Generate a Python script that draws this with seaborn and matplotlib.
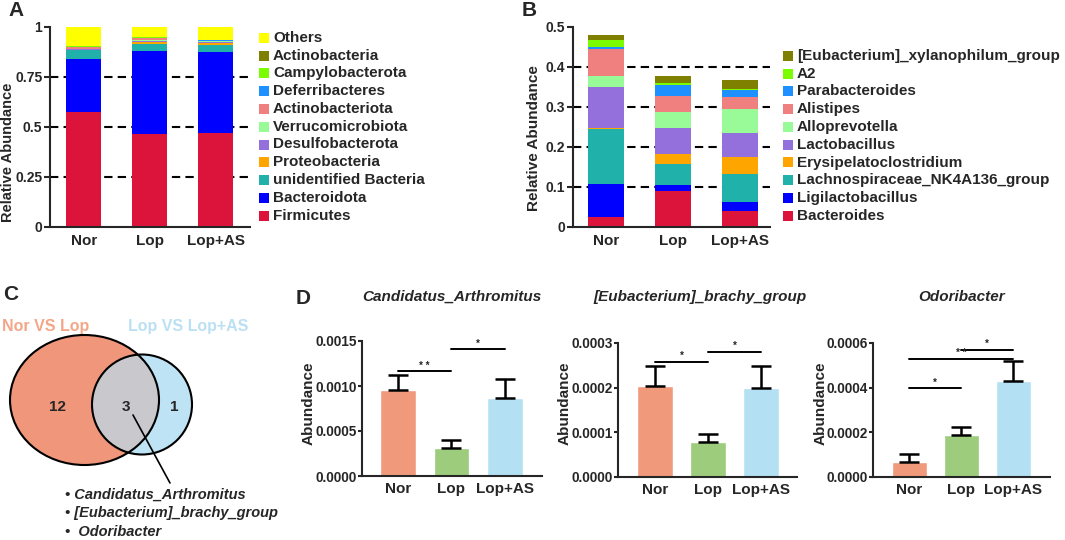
import numpy as np
import pandas as pd
import matplotlib
matplotlib.use('Agg')
import matplotlib.pyplot as plt
from matplotlib.patches import Ellipse, Circle, Rectangle
import seaborn as sns

W, H = 1065, 540

groups = ['Nor', 'Lop', 'Lop+AS']

# panel A - phylum level (top of the stack first)
phyla = ['Others', 'Actinobacteria', 'Campylobacterota', 'Deferribacteres', 'Actinobacteriota',
         'Verrucomicrobiota', 'Desulfobacterota', 'Proteobacteria', 'unidentified Bacteria',
         'Bacteroidota', 'Firmicutes']
phyla_colors = ['#FFFF00', '#808000', '#7CFC00', '#1E90FF', '#F08080', '#98FB98',
                '#9370DB', '#FFA500', '#20B2AA', '#0000FF', '#DC143C']
phyla_nor = [0.095, 0.002, 0.001, 0.002, 0.008, 0.002, 0.003, 0.002, 0.045, 0.265, 0.575]
phyla_lop = [0.050, 0.002, 0.001, 0.004, 0.008, 0.003, 0.006, 0.012, 0.034, 0.415, 0.465]
phyla_lopas = [0.063, 0.002, 0.001, 0.002, 0.003, 0.002, 0.007, 0.010, 0.037, 0.405, 0.468]

# panel B - genus level
genera = ['[Eubacterium]_xylanophilum_group', 'A2', 'Parabacteroides', 'Alistipes', 'Alloprevotella',
          'Lactobacillus', 'Erysipelatoclostridium', 'Lachnospiraceae_NK4A136_group',
          'Ligilactobacillus', 'Bacteroides']
genera_colors = ['#808000', '#7CFC00', '#1E90FF', '#F08080', '#98FB98',
                 '#9370DB', '#FFA500', '#20B2AA', '#0000FF', '#DC143C']
genera_nor = [0.012, 0.016, 0.005, 0.068, 0.029, 0.101, 0.003, 0.137, 0.083, 0.025]
genera_lop = [0.0165, 0.007, 0.026, 0.0405, 0.040, 0.065, 0.0245, 0.053, 0.016, 0.089]
genera_lopas = [0.0225, 0.003, 0.018, 0.028, 0.061, 0.060, 0.0425, 0.0705, 0.023, 0.039]

# panel C - venn counts
venn_counts = [12, 3, 1]
shared_taxa = ['Candidatus_Arthromitus', '[Eubacterium]_brachy_group', 'Odoribacter']

# panel D - mean and SEM
arthro_mean = [0.000955, 0.000315, 0.00087]
arthro_sem = [0.000165, 0.000087, 0.00021]
brachy_mean = [0.000203, 0.0000784, 0.000199]
brachy_sem = [0.000046, 0.0000186, 0.000049]
odori_mean = [0.0000653, 0.00019, 0.000428]
odori_sem = [0.0000387, 0.000033, 0.00009]
arthro_sig = [(0, 1, 0.001163, '* *'), (1, 2, 0.00141, '*')]
brachy_sig = [(0, 1, 0.000258, '*'), (1, 2, 0.00028, '*')]
odori_sig = [(0, 1, 0.000397, '*'), (0, 2, 0.00053, '* *'), (1, 2, 0.00057, '*')]

bar_colors = ['#F09A7B', '#9CCC7C', '#B4E0F4']

sns.set_style('ticks')
plt.rcParams['font.family'] = ['Liberation Sans', 'DejaVu Sans']
plt.rcParams['font.weight'] = 'bold'
plt.rcParams['axes.labelweight'] = 'bold'
plt.rcParams['axes.linewidth'] = 1.5

fig = plt.figure(figsize=(W / 100, H / 100), dpi=100)


def px_axes(x0, y0, x1, y1):
    return fig.add_axes([x0 / W, 1 - y1 / H, (x1 - x0) / W, (y1 - y0) / H])


def ftext(x, y, s, **kw):
    kw.setdefault('ha', 'center')
    kw.setdefault('va', 'center')
    return fig.text(x / W, 1 - y / H, s, **kw)


def stacked(ax, names, colors, vals_by_group, shrink):
    rows = []
    for gi, vals in enumerate(vals_by_group):
        for n, v in zip(names, vals):
            rows.append({'pos': gi, 'taxon': n, 'value': v})
    df = pd.DataFrame(rows)
    sns.histplot(data=df, x='pos', weights='value', hue='taxon', hue_order=names,
                 palette=dict(zip(names, colors)), multiple='stack', discrete=True,
                 shrink=shrink, alpha=1, linewidth=0, legend=False, ax=ax, zorder=2)
    ax.set_xticks(range(len(groups)))
    ax.set_xticklabels(groups, fontsize=11)
    ax.set_xlabel('')
    ax.set_ylabel('')
    ax.tick_params(axis='x', length=0, pad=5)
    ax.tick_params(axis='y', direction='out', length=4, width=1.5, pad=1.5, labelsize=10)
    sns.despine(ax=ax)


def legend_block(x_sq, x_txt, y0, names, colors, fs):
    for k, (n, c) in enumerate(zip(names, colors)):
        y = y0 + k * 17.8
        fig.patches.append(Rectangle((x_sq / W, 1 - (y + 5) / H), 10 / W, 10 / H,
                                     transform=fig.transFigure, fc=c, ec='none'))
        ftext(x_txt, y, n, ha='left', fontsize=fs)


# ---- A
axA = px_axes(50, 27, 250, 227)
for yv in [0.25, 0.5, 0.75]:
    axA.axhline(yv, color='black', lw=1.5, ls=(0, (4, 2.5)), zorder=1)
stacked(axA, phyla, phyla_colors, [phyla_nor, phyla_lop, phyla_lopas], 0.53)
axA.set_xlim(-0.51, 2.52)
axA.set_ylim(0, 1)
axA.set_yticks([0, 0.25, 0.5, 0.75, 1])
axA.set_yticklabels(['0', '0.25', '0.5', '0.75', '1'])
legend_block(259, 273, 37.7, phyla, phyla_colors, 11)
ftext(8.5, 152, 'Relative Abundance', rotation=90, fontsize=10.5)
ftext(16, 11, 'A', fontsize=15)

# ---- B
axB = px_axes(573, 27, 770, 227)
for yv in [0.1, 0.2, 0.3, 0.4]:
    axB.axhline(yv, color='black', lw=1.5, ls=(0, (4, 2.5)), zorder=1)
stacked(axB, genera, genera_colors, [genera_nor, genera_lop, genera_lopas], 0.54)
axB.set_xlim(-0.49, 2.45)
axB.set_ylim(0, 0.5)
axB.set_yticks([0, 0.1, 0.2, 0.3, 0.4, 0.5])
axB.set_yticklabels(['0', '0.1', '0.2', '0.3', '0.4', '0.5'])
legend_block(783, 797, 55.7, genera, genera_colors, 11)
ftext(534, 138, 'Relative Abundance', rotation=90, fontsize=11)
ftext(529, 11, 'B', fontsize=15)

# ---- C venn
axC = px_axes(0, 310, 300, 540)
axC.set_xlim(0, 300)
axC.set_ylim(540, 310)
axC.axis('off')
big = Ellipse((84.5, 400), 149, 130, fc='#F0967A', ec='none', zorder=1)
small = Circle((142, 404.5), 50, fc='#BDE3F5', ec='none', zorder=1.5)
axC.add_patch(big)
axC.add_patch(small)
inter = Circle((142, 404.5), 50, fc='#C9C9CD', ec='none', zorder=2)
axC.add_patch(inter)
inter.set_clip_path(big)
axC.add_patch(Ellipse((84.5, 400), 149, 130, fill=False, ec='black', lw=1.5, zorder=3))
axC.add_patch(Circle((142, 404.5), 50, fill=False, ec='black', lw=1.5, zorder=3))
for (xx, cnt) in zip([58, 126, 174], venn_counts):
    axC.text(xx, 407, str(cnt), ha='center', va='center', fontsize=11, zorder=4)
axC.plot([133, 170], [415, 483], color='black', lw=1.2, zorder=4)
axC.text(2, 326, 'Nor VS Lop', color='#F4A688', ha='left', va='center', fontsize=11.5)
axC.text(128, 326, 'Lop VS Lop+AS', color='#BCE0F3', ha='left', va='center', fontsize=11.5)
for k, name in enumerate(shared_taxa):
    sep = '  ' if k == 2 else ' '
    axC.text(65, 495 + k * 18.5, '\u2022' + sep + name, ha='left', va='center',
             fontsize=10.5, style='italic')
ftext(11, 294, 'C', fontsize=15)
ftext(303, 298, 'D', fontsize=15)


# ---- D bars
def sem_bars(ax, means, sems, sigs, ymax, yticks, xlim):
    sns.barplot(x=groups, y=means, hue=groups, palette=bar_colors, legend=False,
                width=0.67, saturation=1, ax=ax, zorder=2)
    ax.errorbar(range(3), means, yerr=[[0, 0, 0], sems], fmt='none', ecolor='black',
                elinewidth=1.8, capsize=7, capthick=1.8, zorder=3)
    for i, j, yv, lab in sigs:
        ax.plot([i, j], [yv, yv], color='black', lw=1.4, clip_on=False)
        ax.text((i + j) / 2, yv + ymax * 0.005, lab, ha='center', va='bottom', fontsize=7)
    ax.set_xlim(*xlim)
    ax.set_ylim(0, ymax)
    ax.set_yticks(yticks)
    ax.set_yticklabels(['%.4f' % t for t in yticks])
    ax.set_xlabel('')
    ax.set_ylabel('')
    ax.tick_params(axis='x', length=0, pad=4, labelsize=11)
    ax.tick_params(axis='y', direction='out', length=3, width=1.5, pad=0.5, labelsize=9.8)
    sns.despine(ax=ax)


axD1 = px_axes(362, 341, 542, 476)
sem_bars(axD1, arthro_mean, arthro_sem, arthro_sig, 0.0015, [0, 0.0005, 0.001, 0.0015], (-0.67, 2.69))
axD2 = px_axes(618, 343, 797, 477)
sem_bars(axD2, brachy_mean, brachy_sem, brachy_sig, 0.0003, [0, 0.0001, 0.0002, 0.0003], (-0.70, 2.68))
axD3 = px_axes(873, 343, 1050, 477)
sem_bars(axD3, odori_mean, odori_sem, odori_sig, 0.0006, [0, 0.0002, 0.0004, 0.0006], (-0.69, 2.70))

ftext(452, 297, 'Candidatus_Arthromitus', fontsize=11, style='italic')
ftext(700, 297, '[Eubacterium]_brachy_group', fontsize=11, style='italic')
ftext(962, 297, 'Odoribacter', fontsize=11, style='italic')
for xx in [309, 565, 821]:
    ftext(xx, 403, 'Abundance', rotation=90, fontsize=11)

fig.savefig('out.png', dpi=100)
